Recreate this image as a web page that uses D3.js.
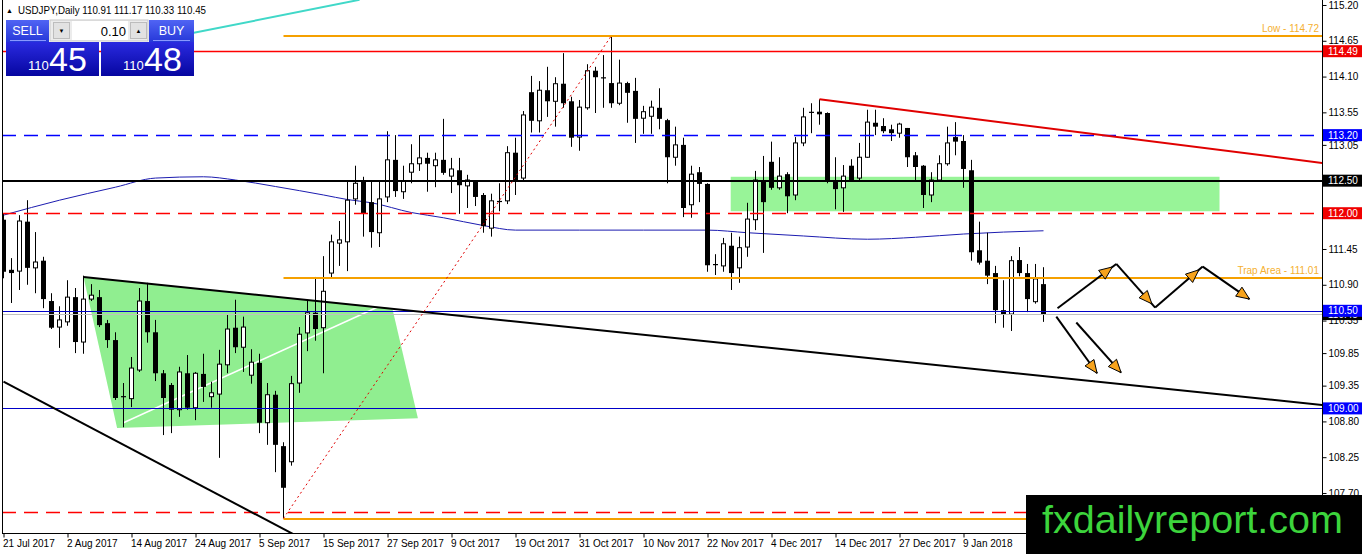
<!DOCTYPE html>
<html><head><meta charset="utf-8">
<script src="https://cdn.jsdelivr.net/npm/d3@7/dist/d3.min.js"></script>
<style>body{margin:0;background:#fff;overflow:hidden}svg{display:block}</style>
</head><body>
<svg id="c" width="1362" height="554"></svg>
<script>
// ---------------- DATA ----------------
const symbolTitle = "USDJPY,Daily";
const xTickLabels = ["21 Jul 2017","2 Aug 2017","14 Aug 2017","24 Aug 2017","5 Sep 2017","15 Sep 2017","27 Sep 2017","9 Oct 2017","19 Oct 2017","31 Oct 2017","10 Nov 2017","22 Nov 2017","4 Dec 2017","14 Dec 2017","27 Dec 2017","9 Jan 2018"];
const barsPerXTick = 8;
const yTickValues = [115.20,114.65,114.10,113.55,113.05,111.45,110.90,110.35,109.85,109.35,108.80,108.25,107.70];

const opens  = [111.90,111.13,111.11,111.87,111.16,111.27,110.65,110.25,110.33,110.71,110.02,110.68,110.71,110.31,110.05,109.18,109.15,109.59,110.65,110.17,109.54,109.36,108.98,109.54,109.01,109.53,109.18,109.22,109.67,110.24,109.94,109.51,109.70,108.78,109.21,108.42,108.18,109.39,110.16,110.47,110.24,111.08,111.54,111.56,112.22,112.48,112.17,111.70,112.25,112.82,112.33,112.63,112.76,112.85,112.73,112.82,112.57,112.66,112.42,112.49,112.28,111.77,112.17,112.19,112.93,112.54,113.86,113.42,113.89,113.72,113.99,113.72,113.17,113.62,114.19,114.08,114.00,113.69,114.00,113.88,113.46,113.49,113.62,113.43,112.86,113.05,112.13,112.63,112.45,111.20,111.19,111.50,111.16,111.48,111.90,112.51,112.79,112.39,112.60,112.28,113.08,113.54,113.56,113.54,112.51,112.39,112.73,112.54,112.86,113.39,113.34,113.29,113.23,113.31,112.89,112.73,112.28,112.51,112.76,113.17,113.11,112.66,111.43,111.27,111.08,110.51,110.45,111.28,111.08,110.64,110.91];
const highs  = [111.99,111.31,111.97,112.20,111.71,111.33,110.77,110.57,110.97,110.85,111.04,110.91,110.82,110.36,110.17,109.39,109.79,110.85,110.93,110.36,109.59,109.39,109.64,109.82,109.56,109.84,109.41,109.90,110.44,110.67,110.41,109.91,109.84,109.39,109.27,108.48,109.50,110.25,110.67,111.02,111.34,111.67,111.88,112.51,112.73,112.56,112.48,112.48,113.26,113.20,112.73,113.06,113.20,112.93,112.93,113.45,112.85,112.85,112.59,112.51,112.31,112.30,112.46,113.03,113.16,113.57,114.11,114.03,114.25,114.09,114.46,113.79,113.74,114.29,114.25,114.43,114.73,114.36,114.02,114.08,113.65,113.73,113.92,113.45,113.33,113.16,112.73,112.71,112.46,111.37,111.62,111.70,111.64,112.16,112.65,112.88,113.10,112.86,112.63,113.17,113.62,113.69,113.75,113.55,112.86,112.74,112.83,113.08,113.59,113.59,113.46,113.36,113.39,113.31,112.94,112.74,112.63,112.89,113.33,113.40,113.20,112.82,111.87,111.70,111.19,110.97,111.34,111.48,111.22,111.22,111.17];
const lows   = [111.00,110.62,110.82,110.90,110.77,110.54,110.22,109.93,110.27,109.85,109.84,110.65,110.25,109.93,109.13,108.71,109.02,109.56,110.01,109.42,108.59,108.62,108.87,108.98,108.82,109.10,109.01,108.24,109.54,109.85,109.56,109.38,108.62,108.44,108.02,107.31,108.12,109.24,109.88,110.04,109.54,111.00,111.19,111.11,112.13,111.64,111.47,111.48,112.17,112.25,112.22,112.46,112.65,112.33,112.40,112.59,112.31,111.99,112.08,112.11,111.70,111.64,112.03,112.14,112.28,112.50,113.24,113.24,113.48,113.33,113.62,113.02,112.96,113.59,113.54,113.62,113.62,113.66,113.39,113.08,113.22,113.22,113.29,112.46,112.73,111.94,111.93,112.17,111.10,111.05,111.10,110.82,110.93,111.33,111.74,111.39,112.36,112.36,112.00,112.20,113.03,113.23,113.36,112.46,112.06,112.02,112.48,112.51,112.85,113.20,113.23,113.11,113.16,112.71,112.48,112.08,112.17,112.48,112.73,112.89,112.39,111.27,111.21,110.91,110.31,110.24,110.19,111.03,110.48,110.61,110.33];
const closes = [111.10,111.08,111.88,111.16,111.25,110.68,110.24,110.36,110.71,110.02,110.68,110.74,110.28,110.05,109.16,109.17,109.62,110.65,110.17,109.54,109.16,108.98,109.56,109.01,109.54,109.33,109.24,109.68,110.22,109.94,110.25,109.71,108.78,109.21,108.44,107.78,109.38,110.14,110.47,110.22,110.80,111.56,111.59,112.20,112.46,111.99,111.71,112.22,112.82,112.34,112.50,112.76,112.85,112.76,112.82,112.62,112.68,112.43,112.51,112.25,111.80,112.19,112.18,112.93,112.51,113.51,113.42,113.89,113.72,113.99,113.69,113.16,113.63,114.19,114.09,114.07,113.69,114.00,113.85,113.45,113.56,113.63,113.45,112.86,113.05,112.08,112.60,112.45,111.20,111.21,111.53,111.08,111.47,111.91,112.51,112.17,112.39,112.57,112.26,113.08,113.48,113.55,113.52,112.49,112.37,112.57,112.51,112.86,113.40,113.33,113.26,113.23,113.37,112.86,112.71,112.28,112.51,112.76,113.08,113.10,112.68,111.40,111.24,111.04,110.51,110.45,111.27,111.08,110.68,110.99,110.45];

// moving average (read at selected bars)
const maIdx  = [0,7,14,19,25,29,34,40,43,46,51,55,60,64,72,80,88,93,100,108,114,120,125,130];
const maVals = [111.97,112.20,112.40,112.54,112.56,112.51,112.41,112.28,112.21,112.16,112.01,111.93,111.81,111.74,111.74,111.74,111.74,111.70,111.65,111.60,111.63,111.68,111.71,111.73];

// horizontal levels
const lowLevel = 114.72, redLevel = 114.49, blueDashLevel = 113.20, blackLevel = 112.50,
      redDashLevel = 112.00, trapLevel = 111.01, blueLevel1 = 110.50, blueLevel2 = 109.00,
      bottomRedDashLevel = 107.41, bottomOrangeLevel = 107.30;
const levelStartBar = 35;

// zones and trend lines: [barIndex, price]
const zoneRect = {from: 90.9, to: 152, lo: 112.03, hi: 112.56};
const trianglePts = [[10,111.02],[48.6,110.54],[51.8,108.85],[14.2,108.70]];
const triangleInnerLine = [[15,108.78],[47,110.57]];
const longBlackTrend = [[10,111.02],[165,109.05]];
const lowerBlackTrend = [[0,109.41],[36.5,107.05]];
const redTrend = [[102,113.75],[165,112.77]];
const cyanTrend = [[20,114.68],[44.5,115.28]];
const dottedRise = [[35,107.31],[76,114.73]];

// projection arrows
const zigIdx = [131.75,139.1,143.96,149.9,155.75];
const zigPx  = [110.54,111.22,110.55,111.18,110.68];
const downArrows = [[[131.6,110.41],[136.7,109.54]],[[134.1,110.32],[139.7,109.55]]];

// trade panel
const lotSize = 0.10, bidPrice = 110.45, askPrice = 110.48;
const watermark = "fxdailyreport.com";

// ---------------- DRAW ----------------
const svg = d3.select("#c");
const plot = {l:2, r:1322, t:2, b:533};
const x = d3.scaleLinear().domain([-0.1875, 164.8125]).range([plot.l, plot.r]);
const y = d3.scaleLinear().domain([107.085, 115.246]).range([plot.b, plot.t]);
const font = "'Liberation Sans', Arial, sans-serif";

const defs = svg.append("defs");
defs.append("clipPath").attr("id","pc").append("rect")
  .attr("x",plot.l).attr("y",0).attr("width",plot.r-plot.l).attr("height",plot.b);
function grad(id, c1, c2){
  const g = defs.append("linearGradient").attr("id",id).attr("x1",0).attr("y1",0).attr("x2",0).attr("y2",1);
  g.append("stop").attr("offset","0%").attr("stop-color",c1);
  g.append("stop").attr("offset","100%").attr("stop-color",c2);
}
grad("btn","#5064f4","#2638d8");
grad("pbox","#2a2ae0","#0606a0");

svg.append("rect").attr("width",1362).attr("height",554).attr("fill","#fff");
const g = svg.append("g").attr("clip-path","url(#pc)");

// zones
g.append("rect").attr("x",x(zoneRect.from)).attr("y",y(zoneRect.hi))
  .attr("width",x(zoneRect.to)-x(zoneRect.from)).attr("height",y(zoneRect.lo)-y(zoneRect.hi))
  .attr("fill","#98f498");
g.append("polygon").attr("points",trianglePts.map(p=>[x(p[0]),y(p[1])].join(",")).join(" "))
  .attr("fill","#90ee90");
const seg = (pts, stroke, w, dash) => g.append("line")
  .attr("x1",x(pts[0][0])).attr("y1",y(pts[0][1])).attr("x2",x(pts[1][0])).attr("y2",y(pts[1][1]))
  .attr("stroke",stroke).attr("stroke-width",w).attr("stroke-dasharray",dash||null);
seg(triangleInnerLine,"#ffffff",1.5);

// moving average
g.append("path").datum(maIdx.map((d,k)=>[d,maVals[k]]))
  .attr("d", d3.line().x(d=>x(d[0])).y(d=>y(d[1])).curve(d3.curveMonotoneX))
  .attr("fill","none").attr("stroke","#1c1cb0").attr("stroke-width",1);

// candles
const bars = opens.map((o,i)=>({i,o,h:highs[i],l:lows[i],c:closes[i]}));
const cg = g.append("g");
bars.forEach(b=>{
  const cx = x(b.i);
  cg.append("line").attr("x1",cx).attr("x2",cx).attr("y1",y(b.h)).attr("y2",y(b.l))
    .attr("stroke","#000").attr("stroke-width",1);
  const top = y(Math.max(b.o,b.c)), bot = y(Math.min(b.o,b.c));
  if (Math.abs(b.c-b.o) < 0.02) {
    cg.append("line").attr("x1",cx-2.5).attr("x2",cx+2.5).attr("y1",top).attr("y2",top)
      .attr("stroke","#000").attr("stroke-width",1.2);
  } else if (b.c > b.o) {
    cg.append("rect").attr("x",cx-2).attr("y",top).attr("width",4).attr("height",bot-top)
      .attr("fill","#fff").attr("stroke","#000").attr("stroke-width",1);
  } else {
    cg.append("rect").attr("x",cx-2.5).attr("y",top).attr("width",5).attr("height",bot-top)
      .attr("fill","#000");
  }
});

// horizontal levels
const hline = (p, x0, stroke, w, dash) => {
  const yy = Math.round(y(p)) + (w%2?0.5:0);
  return g.append("line").attr("x1",x0).attr("x2",plot.r).attr("y1",yy).attr("y2",yy)
    .attr("stroke",stroke).attr("stroke-width",w).attr("stroke-dasharray",dash||null);
};
hline(redLevel, plot.l, "#ff0000", 1.3);
hline(blueDashLevel, plot.l, "#0000ff", 1.3, "14,8");
hline(blackLevel, plot.l, "#000", 2);
hline(redDashLevel, plot.l, "#ff0000", 1.3, "14,8");
hline(closes[closes.length-1], plot.l, "#c0c0c0", 1);
hline(blueLevel1, plot.l, "#0000c8", 1.2);
hline(blueLevel2, plot.l, "#0000c8", 1.2);
hline(bottomRedDashLevel, plot.l, "#ff0000", 1.3, "14,8");
hline(lowLevel, x(levelStartBar), "#f5a000", 2);
hline(trapLevel, x(levelStartBar), "#f5a000", 2);
hline(bottomOrangeLevel, x(levelStartBar), "#f5a000", 2);

// trend lines
seg(longBlackTrend,"#000",2);
seg(lowerBlackTrend,"#000",2);
seg(redTrend,"#e00000",2);
seg(cyanTrend,"#40d8c8",2);
seg(dottedRise,"#e00000",1,"2,3");

// level captions
g.append("text").attr("x",plot.r-3).attr("y",y(lowLevel)-4).attr("text-anchor","end")
  .attr("font-family",font).attr("font-size",10).attr("fill","#f5b030").text("Low - " + lowLevel.toFixed(2));
g.append("text").attr("x",plot.r-3).attr("y",y(trapLevel)-4).attr("text-anchor","end")
  .attr("font-family",font).attr("font-size",10).attr("fill","#f5b030").text("Trap Area - " + trapLevel.toFixed(2));

// arrows
function arrow(p0, p1, back){
  const X0=x(p0[0]),Y0=y(p0[1]),X1=x(p1[0]),Y1=y(p1[1]);
  g.append("line").attr("x1",X0).attr("y1",Y0).attr("x2",X1).attr("y2",Y1)
    .attr("stroke","#000").attr("stroke-width",2);
  const dx=X1-X0, dy=Y1-Y0, L=Math.hypot(dx,dy), ux=dx/L, uy=dy/L;
  const tx=X1-ux*back, ty=Y1-uy*back, bx=tx-ux*13, by=ty-uy*13;
  g.append("polygon").attr("points",[[tx,ty],[bx-uy*5.5,by+ux*5.5],[bx+uy*5.5,by-ux*5.5]].map(p=>p.join(",")).join(" "))
    .attr("fill","#f7a31c").attr("stroke","#000").attr("stroke-width",1);
}
for (let k=0;k<zigIdx.length-1;k++){
  arrow([zigIdx[k],zigPx[k]],[zigIdx[k+1],zigPx[k+1]], k<zigIdx.length-2?5:0);
}
downArrows.forEach(a=>arrow(a[0],a[1],0));

// frame & axes
svg.append("line").attr("x1",2.5).attr("x2",2.5).attr("y1",0).attr("y2",plot.b).attr("stroke","#000");
const yAxis = svg.append("g").attr("transform",`translate(${plot.r+0.5},0)`)
  .call(d3.axisRight(y).tickValues(yTickValues).tickFormat(d3.format(".2f")).tickSize(4).tickSizeOuter(0));
yAxis.select(".domain").attr("d",`M0,0V${plot.b}`);
yAxis.selectAll("text").attr("font-family",font).attr("font-size",10).attr("fill","#000").attr("x",6);
const xAxis = svg.append("g").attr("transform",`translate(0,${plot.b+0.5})`)
  .call(d3.axisBottom(x).tickValues(xTickLabels.map((_,k)=>k*barsPerXTick))
    .tickFormat((d,k)=>xTickLabels[k]).tickSize(4).tickSizeOuter(0));
xAxis.select(".domain").attr("d",`M${plot.l},0H${plot.r}`);
xAxis.selectAll("text").attr("font-family",font).attr("font-size",10).attr("fill","#000")
  .attr("text-anchor","start").attr("x",-1).attr("y",6);

// price boxes on axis
const boxes = [
  [redLevel,"#f00000"],[blueDashLevel,"#0000ff"],[blackLevel,"#000000"],[redDashLevel,"#f00000"],
  [closes[closes.length-1],"#000000"],[blueLevel1,"#0000ff"],[blueLevel2,"#0000ff"]];
boxes.forEach(([p,c])=>{
  const yy = y(p);
  svg.append("rect").attr("x",plot.r+1).attr("y",yy-6).attr("width",1362-plot.r-1).attr("height",12).attr("fill",c);
  svg.append("text").attr("x",plot.r+6).attr("y",yy+3.6).attr("font-family",font).attr("font-size",10)
    .attr("fill","#fff").text(p.toFixed(2));
});

// header
svg.append("text").attr("x",6).attr("y",13).attr("font-family",font).attr("font-size",7).text("▲");
svg.append("text").attr("x",18).attr("y",14).attr("font-family",font).attr("font-size",10.5)
  .attr("textLength",188).attr("lengthAdjust","spacingAndGlyphs")
  .text(`${symbolTitle}  ${opens[130].toFixed(2)} ${highs[130].toFixed(2)} ${lows[130].toFixed(2)} ${closes[130].toFixed(2)}`);

// trade panel
const pnl = svg.append("g");
pnl.append("rect").attr("x",6).attr("y",20).attr("width",43).attr("height",22).attr("fill","url(#btn)");
pnl.append("rect").attr("x",149).attr("y",20).attr("width",45).attr("height",22).attr("fill","url(#btn)");
pnl.append("line").attr("x1",10).attr("x2",46).attr("y1",40.5).attr("y2",40.5).attr("stroke","#8a98ff");
pnl.append("line").attr("x1",153).attr("x2",190).attr("y1",40.5).attr("y2",40.5).attr("stroke","#8a98ff");
pnl.append("text").attr("x",27.5).attr("y",35).attr("text-anchor","middle").attr("font-family",font)
  .attr("font-size",12.5).attr("fill","#fff").text("SELL");
pnl.append("text").attr("x",171.5).attr("y",35).attr("text-anchor","middle").attr("font-family",font)
  .attr("font-size",12.5).attr("fill","#fff").text("BUY");
pnl.append("rect").attr("x",50).attr("y",20).attr("width",98).attr("height",21).attr("fill","#ececec").attr("stroke","#c8c8c8");
pnl.append("rect").attr("x",72).attr("y",21).attr("width",56).attr("height",19).attr("fill","#fff");
pnl.append("rect").attr("x",53.5).attr("y",22.5).attr("width",16).attr("height",16).attr("fill","#e2e2e2").attr("stroke","#bdbdbd");
pnl.append("rect").attr("x",130.5).attr("y",22.5).attr("width",16).attr("height",16).attr("fill","#e2e2e2").attr("stroke","#bdbdbd");
pnl.append("text").attr("x",61.5).attr("y",33).attr("text-anchor","middle").attr("font-size",6).attr("font-family",font).text("▼");
pnl.append("text").attr("x",138.5).attr("y",33).attr("text-anchor","middle").attr("font-size",6).attr("font-family",font).text("▲");
pnl.append("text").attr("x",126).attr("y",35.5).attr("text-anchor","end").attr("font-family",font)
  .attr("font-size",13).attr("fill","#000").text(lotSize.toFixed(2));
[[6,bidPrice],[101,askPrice]].forEach(([bx,pr])=>{
  pnl.append("rect").attr("x",bx).attr("y",42).attr("width",93).attr("height",34).attr("fill","url(#pbox)");
  const s = pr.toFixed(2).split(".");
  pnl.append("text").attr("x",bx+22).attr("y",70).attr("font-family",font).attr("font-size",13)
    .attr("fill","#fff").text(s[0]);
  pnl.append("text").attr("x",bx+43).attr("y",71).attr("font-family",font).attr("font-size",34)
    .attr("fill","#fff").text(s[1]);
});

// watermark
svg.append("rect").attr("x",1026).attr("y",495).attr("width",336).attr("height",59).attr("fill","#000");
svg.append("text").attr("x",1042).attr("y",533).attr("font-family",font).attr("font-size",39)
  .attr("textLength",301).attr("lengthAdjust","spacingAndGlyphs")
  .attr("fill","#3cd43c").text(watermark);
</script>
</body></html>
